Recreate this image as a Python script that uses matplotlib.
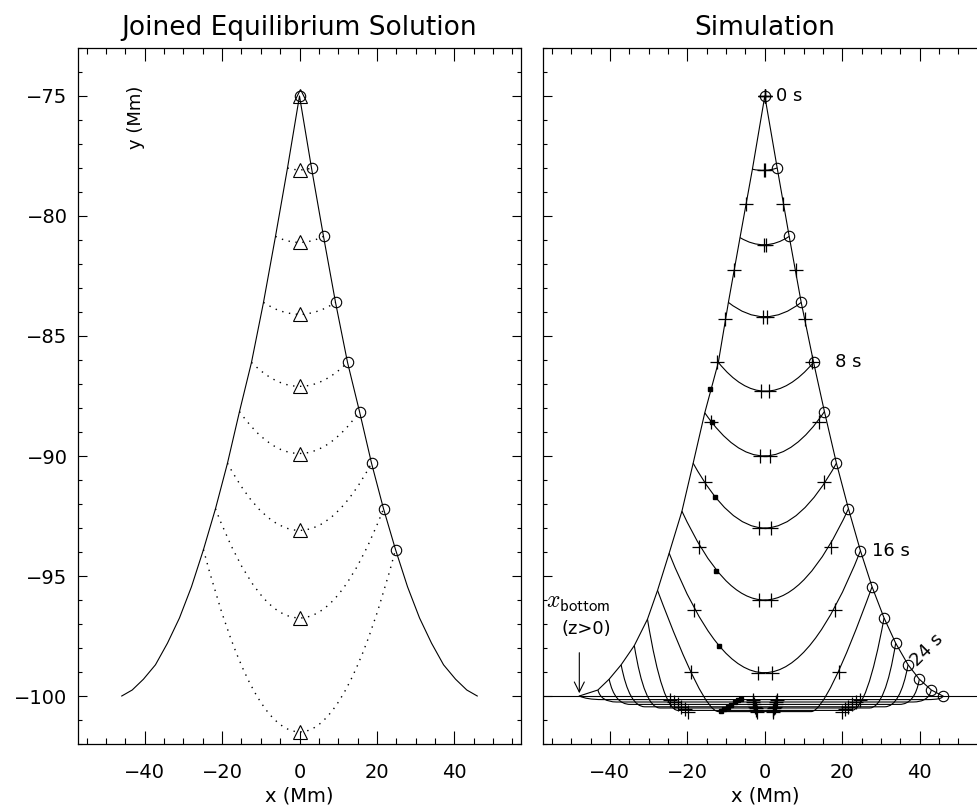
import matplotlib
matplotlib.use("Agg")
import matplotlib.pyplot as plt
from matplotlib.path import Path
from matplotlib.patches import PathPatch
from matplotlib.ticker import MultipleLocator

plt.rcParams['font.family'] = ['DejaVu Sans']

# ---- left panel: joined equilibrium solution ----
x_eq = [0.0, 3.1, 6.2, 9.3, 12.4, 15.5, 18.6, 21.7, 24.8, 27.9, 31.0, 34.1, 37.2, 40.3, 43.2, 45.9]
y_eq = [-75.0, -78.0, -80.85, -83.6, -86.1, -88.15, -90.3, -92.2, -93.9, -95.45, -96.75, -97.8, -98.7,
        -99.3, -99.75, -100.0]
y_tri = [-75.0, -78.08, -81.1, -84.1, -87.1, -89.9, -93.1, -96.75, -101.5]

# ---- right panel: simulation, every 2 s from 0 to 30 s ----
x_right = [0.0, 3.2, 6.3, 9.4, 12.6, 15.4, 18.5, 21.6, 24.7, 27.7, 30.8, 33.8, 37.0, 39.9, 43.0, 46.0]
y_right = [-75.0, -78.0, -80.85, -83.6, -86.1, -88.15, -90.3, -92.2, -93.95, -95.45, -96.75, -97.8,
           -98.7, -99.3, -99.75, -100.0]
x_left = [0.0, -3.2, -6.4, -9.4, -12.0, -15.5, -18.5, -21.4, -24.7, -27.7, -30.3, -33.7, -37.1, -40.2,
          -43.1, -47.9]
y_left = [-75.0, -78.05, -80.9, -83.6, -86.1, -88.2, -90.3, -92.3, -94.05, -95.6, -96.8, -97.9, -98.7,
          -99.3, -99.75, -100.0]

# bottoms of the field lines, t = 2..16 s (U shaped) and t = 18..30 s (flattened)
y_bot_early = [-78.1, -81.2, -84.2, -87.3, -90.0, -93.0, -96.0, -99.03]
y_bot_late = [-100.65, -100.6, -100.5, -100.45, -100.35, -100.25, -100.15]
x_knee_late = [16.0, 26.4, 31.1, 35.0, 38.8, 42.3, 46.0]

# tracer markers
plus_side_x = [0.0, 4.8, 8.0, 10.3, 12.3, 13.9, 15.4, 17.0, 18.2, 19.1, 19.9, 20.7, 21.6, 22.5, 23.5, 24.6]
plus_side_y = [-75.0, -79.5, -82.25, -84.3, -86.1, -88.6, -91.1, -93.8, -96.4, -99.0, -100.65, -100.55,
               -100.45, -100.35, -100.25, -100.15]
plus_mid_x = [0.0, 0.1, 0.3, 0.5, 1.1, 1.3, 1.5, 1.6, 1.85, 2.0, 2.2, 2.4, 2.6, 2.8, 3.0, 3.1]
plus_mid_y = [-75.0, -78.1, -81.2, -84.2, -87.3, -90.0, -93.0, -96.0, -99.03, -100.65, -100.6, -100.5,
              -100.45, -100.35, -100.25, -100.15]
sq_x = [-14.1, -13.7, -12.9, -12.5, -11.8, -11.4, -10.5, -9.6, -8.7, -7.8, -7.0, -6.2]
sq_y = [-87.2, -88.6, -91.7, -94.8, -97.9, -100.62, -100.56, -100.46, -100.36, -100.26, -100.18, -100.12]

time_labels = ['0 s', '8 s', '16 s', '24 s']
time_label_idx = [0, 4, 8, 12]
time_label_dx = [2.9, 5.5, 3.1]

LW = 0.8


def u_curve(ax, xl, yl, xr, yr, ybot, **kw):
    ctrl = 2 * ybot - 0.5 * (yl + yr)
    p = Path([(xl, yl), (0.0, ctrl), (xr, yr)], [Path.MOVETO, Path.CURVE3, Path.CURVE3])
    ax.add_patch(PathPatch(p, fill=False, **kw))


def flat_curve(ax, xl, yl, xr, yr, ybot, xk, **kw):
    r = 4.0
    verts = [(xl, yl), (-xk, ybot), (-xk + r, ybot), (xk - r, ybot), (xk, ybot), (xr, yr)]
    codes = [Path.MOVETO, Path.CURVE3, Path.CURVE3, Path.LINETO, Path.CURVE3, Path.CURVE3]
    ax.add_patch(PathPatch(Path(verts, codes), fill=False, **kw))


fig = plt.figure(figsize=(9.77, 8.11), dpi=100)
ax1 = fig.add_axes([78 / 977, 67 / 811, 443 / 977, 696 / 811])
ax2 = fig.add_axes([543.3 / 977, 67 / 811, 443 / 977, 696 / 811])

for ax in (ax1, ax2):
    ax.set_xlim(-57.2, 57.2)
    ax.set_ylim(-102, -73)
    ax.xaxis.set_major_locator(MultipleLocator(20))
    ax.xaxis.set_minor_locator(MultipleLocator(5))
    ax.yaxis.set_major_locator(MultipleLocator(5))
    ax.yaxis.set_minor_locator(MultipleLocator(1))
    ax.tick_params(which='both', direction='in', top=True, right=True, width=0.8, labelsize=14)
    ax.tick_params(axis='x', which='major', length=9.5, pad=14)
    ax.tick_params(axis='x', which='minor', length=4.5)
    ax.tick_params(axis='y', which='major', length=6.5, pad=7.5)
    ax.tick_params(axis='y', which='minor', length=3.2)
    for s in ax.spines.values():
        s.set_linewidth(0.9)
    ax.set_xlabel('x (Mm)', fontsize=14, labelpad=3)
ax2.tick_params(labelleft=False)

# left panel
xo = [-v for v in x_eq[::-1]] + x_eq[1:]
yo = y_eq[::-1] + y_eq[1:]
ax1.plot(xo, yo, color='k', lw=LW)
for k in range(1, 9):
    u_curve(ax1, -x_eq[k], y_eq[k], x_eq[k], y_eq[k], y_tri[k], color='k', lw=1.0,
            linestyle=(0, (1, 4)))
ax1.plot(x_eq[:9], y_eq[:9], 'o', mfc='none', mec='k', ms=7.5, mew=0.8)
ax1.plot([0.0] * len(y_tri), y_tri, '^', mfc='none', mec='k', ms=10, mew=0.8)
ax1.set_title('Joined Equilibrium Solution', fontsize=19, pad=9.5)
ax1.text(-42.1, -75.9, 'y (Mm)', rotation=90, fontsize=13, ha='center', va='center')

# right panel
ax2.axhline(-100, color='k', lw=LW)
xs = x_left[::-1] + x_right[1:]
ys = y_left[::-1] + y_right[1:]
ax2.plot(xs, ys, color='k', lw=LW)
for k in range(1, 9):
    u_curve(ax2, x_left[k], y_left[k], x_right[k], y_right[k], y_bot_early[k - 1], color='k', lw=LW)
for j in range(7):
    k = 9 + j
    flat_curve(ax2, x_left[k], y_left[k], x_right[k], y_right[k], y_bot_late[j], x_knee_late[j],
               color='k', lw=LW)
ax2.plot(x_right, y_right, 'o', mfc='none', mec='k', ms=7.5, mew=0.8)
px = plus_side_x + [-v for v in plus_side_x] + plus_mid_x + [-v for v in plus_mid_x]
py = plus_side_y * 2 + plus_mid_y * 2
ax2.plot(px, py, '+', color='k', ms=10, mew=0.9)
ax2.plot(sq_x, sq_y, 's', color='k', ms=3)

for lab, k, dx in zip(time_labels[:3], time_label_idx[:3], time_label_dx):
    ax2.text(x_right[k] + dx, y_right[k], lab, fontsize=13, ha='left', va='center')
ax2.text(41.9, -98.1, time_labels[3], fontsize=13, rotation=45, ha='center', va='center')

ax2.annotate('', xy=(x_left[-1], -100.0), xytext=(x_left[-1], -98.08),
             arrowprops=dict(arrowstyle='->', color='k', lw=0.8, mutation_scale=18))
ax2.text(-56.4, -96.1, r'$\mathit{x}_{\mathsf{bottom}}$', fontsize=17, ha='left', va='center',
         math_fontfamily='cm')
ax2.text(-52.5, -97.2, '(z>0)', fontsize=13, ha='left', va='center')
ax2.set_title('Simulation', fontsize=19, pad=9.5)

fig.savefig('out.png', dpi=100)
